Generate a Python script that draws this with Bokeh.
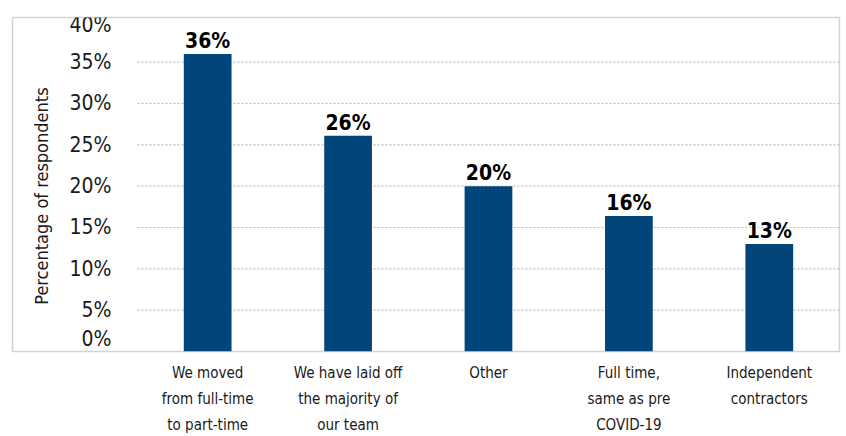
import math
from bokeh.plotting import figure
from bokeh.models import Range1d, FixedTicker, ColumnDataSource
from bokeh.core.properties import value
from bokeh.embed import file_html
from bokeh.resources import INLINE

categories = [
    "We moved\nfrom full-time\nto part-time",
    "We have laid off\nthe majority of\nour team",
    "Other",
    "Full time,\nsame as pre\nCOVID-19",
    "Independent\ncontractors",
]
values = [36, 26.1, 20, 16.4, 13]
y_ticks = [0, 5, 10, 15, 20, 25, 30, 35, 40]
y_title = "Percentage of respondents"

FONT = "'DejaVu Sans Condensed', 'Liberation Sans', sans-serif"
BAR = "#02457a"

idx = list(range(len(categories)))
bar_labels = [f"{round(v)}%" for v in values]

p = figure(width=846, height=436, output_backend="svg", toolbar_location=None,
           x_range=Range1d(-1.39, 4.5), y_range=Range1d(0, 40.4),
           y_axis_location=None,
           min_border_left=12, min_border_right=7, min_border_top=17, min_border_bottom=82)
p.background_fill_color = "white"
p.border_fill_color = "white"
p.outline_line_color = "#d4d4d4"
p.outline_line_width = 1.5
p.xgrid.visible = False
p.ygrid.visible = False

# dotted horizontal gridlines across the category area
grid_vals = [t for t in y_ticks if 0 < t < 40]
p.segment(x0=[idx[0] - 0.5] * len(grid_vals), x1=[idx[-1] + 0.5] * len(grid_vals),
          y0=grid_vals, y1=grid_vals, line_color="#bdbdbd", line_width=1.2, line_dash="2 2")

src = ColumnDataSource(dict(x=idx, top=values, lab=bar_labels))
p.vbar(x="x", top="top", width=0.34, source=src, fill_color=BAR, line_color=None)
p.text(x="x", y="top", text="lab", source=src, text_align="center", text_baseline="bottom",
       y_offset=-1, text_font=value(FONT), text_font_style="bold", text_font_size="21px",
       text_color="#000000")

# y tick labels (inside the bordered chart area)
offs = [(-13 if t == y_ticks[0] else (4 if t == y_ticks[-1] else 0)) for t in y_ticks]
tsrc = ColumnDataSource(dict(y=y_ticks, t=[f"{t}%" for t in y_ticks], off=offs))
p.text(x=-0.685, y="y", text="t", y_offset="off", source=tsrc, text_align="right",
       text_baseline="middle", text_font=value(FONT), text_font_size="21px", text_color="#1a1a1a")

p.text(x=[-1.18], y=[18.8], text=[y_title], angle=math.pi / 2, text_align="center",
       text_baseline="middle", text_font=value(FONT), text_font_size="18px", text_color="#1a1a1a")

ax = p.xaxis[0]
ax.ticker = FixedTicker(ticks=idx)
ax.major_label_overrides = {i: c for i, c in zip(idx, categories)}
ax.major_label_text_font = FONT
ax.major_label_text_font_size = "15px"
ax.major_label_text_color = "#1a1a1a"
ax.major_label_text_line_height = 1.45
ax.major_label_standoff = 12
ax.axis_line_color = None
ax.major_tick_line_color = None
ax.minor_tick_line_color = None
ax.major_tick_out = 0
ax.major_tick_in = 0

open("out.html", "w").write(file_html(p, INLINE))
